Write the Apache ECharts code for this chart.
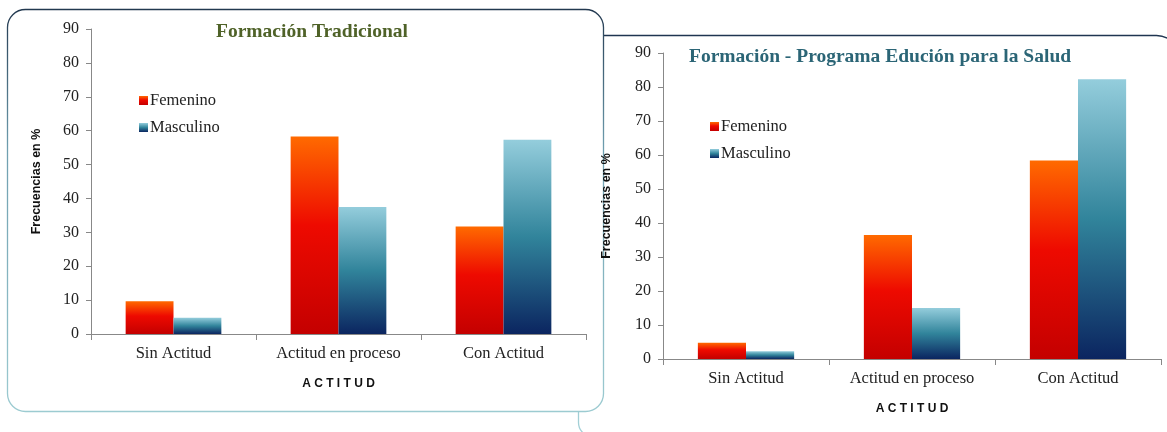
<!DOCTYPE html>
<html>
<head>
<meta charset="utf-8">
<script src="https://cdn.jsdelivr.net/npm/echarts@6/dist/echarts.min.js"></script>
<style>html,body{margin:0;padding:0;background:#fff}#c{width:1167px;height:432px}</style>
</head>
<body>
<div id="c"></div>
<script>
const categories = ['Sin Actitud', 'Actitud en proceso', 'Con Actitud'];
const yTicks = [0, 10, 20, 30, 40, 50, 60, 70, 80, 90];
const titleLeft = 'Formación Tradicional';
const titleRight = 'Formación - Programa Edución para la Salud';
const seriesNames = ['Femenino', 'Masculino'];
const tradFemenino = [9.7, 58.3, 31.7];
const tradMasculino = [4.8, 37.5, 57.3];
const progFemenino = [4.8, 36.5, 58.4];
const progMasculino = [2.3, 15.0, 82.3];

const G = echarts.graphic.LinearGradient;
const femColor = new G(0, 0, 0, 1, [
  {offset: 0, color: '#ff6a00'}, {offset: 0.45, color: '#ee0a00'}, {offset: 1, color: '#c40000'}]);
const masColor = new G(0, 0, 0, 1, [
  {offset: 0, color: '#94cddc'}, {offset: 0.5, color: '#31849b'}, {offset: 1, color: '#0b2560'}]);

const serif = 'Liberation Serif';
const sans = 'Liberation Sans';

function xAx(gi) {
  return {
    type: 'category', gridIndex: gi, data: categories,
    axisLine: {lineStyle: {color: '#888', width: 1}},
    axisTick: {show: true, length: 6, alignWithLabel: false, lineStyle: {color: '#888'}},
    axisLabel: {fontFamily: serif, fontSize: 16.5, color: '#222', margin: 11},
    name: 'A C T I T U D', nameLocation: 'middle', nameGap: 44,
    nameTextStyle: {fontFamily: sans, fontWeight: 'bold', fontSize: 12, color: '#111'}
  };
}
function yAx(gi, gap) {
  return {
    type: 'value', gridIndex: gi, min: yTicks[0], max: yTicks[yTicks.length - 1], interval: 10,
    splitLine: {show: false},
    axisLine: {show: true, lineStyle: {color: '#888', width: 1}},
    axisTick: {show: true, length: 5, lineStyle: {color: '#888'}},
    axisLabel: {fontFamily: serif, fontSize: 16, color: '#222', margin: 12},
    name: 'Frecuencias en %', nameLocation: 'middle', nameRotate: 90, nameGap: gap,
    nameTextStyle: {fontFamily: sans, fontWeight: 'bold', fontSize: 12.5, color: '#111'}
  };
}
function bar(name, data, gi, color) {
  return {
    type: 'bar', name: name, data: data, xAxisIndex: gi, yAxisIndex: gi,
    barGap: '0%', barCategoryGap: '42%', itemStyle: {color: color}, z: 3
  };
}
function legend(left, top) {
  return {
    data: seriesNames, orient: 'vertical', left: left, top: top,
    icon: 'rect', itemWidth: 9, itemHeight: 9, itemGap: 10,
    textStyle: {fontFamily: serif, fontSize: 16.5, color: '#222', padding: [0, 0, 0, -3]},
    selectedMode: false
  };
}

const chart = echarts.init(document.getElementById('c'), null, {renderer: 'canvas'});
chart.setOption({
  animation: false,
  backgroundColor: '#fff',
  graphic: [
    {type: 'rect', z: -10, shape: {x: 578.5, y: 35.5, width: 600, height: 401, r: [22, 22, 14, 14]},
     style: {fill: '#fff', stroke: new G(0, 0, 0, 1, [{offset: 0, color: '#1e3450'}, {offset: 0.3, color: '#6fa4b4'}, {offset: 1, color: '#a5d2d8'}]), lineWidth: 1.3}},
    {type: 'rect', z: -9, shape: {x: 7.5, y: 9.5, width: 596, height: 402, r: 18},
     style: {fill: '#fff', stroke: new G(0, 0, 0, 1, [{offset: 0, color: '#22384f'}, {offset: 0.35, color: '#6f9fb0'}, {offset: 1, color: '#9ccbd1'}]), lineWidth: 1.3}}
  ],
  title: [
    {text: titleLeft, left: 307, top: 17, textAlign: 'center',
     textStyle: {fontFamily: serif, fontWeight: 'bold', fontSize: 19.5, color: '#4f6228'}},
    {text: titleRight, left: 684, top: 42,
     textStyle: {fontFamily: serif, fontWeight: 'bold', fontSize: 19.5, color: '#2b6576'}}
  ],
  legend: [legend(134, 87), legend(705, 113)],
  grid: [
    {left: 91, top: 29, width: 495, height: 305},
    {left: 663, top: 53, width: 498, height: 306}
  ],
  xAxis: [xAx(0), xAx(1)],
  yAxis: [yAx(0, 48), yAx(1, 50)],
  series: [
    bar(seriesNames[0], tradFemenino, 0, femColor),
    bar(seriesNames[1], tradMasculino, 0, masColor),
    bar(seriesNames[0], progFemenino, 1, femColor),
    bar(seriesNames[1], progMasculino, 1, masColor)
  ]
});
</script>
</body>
</html>
